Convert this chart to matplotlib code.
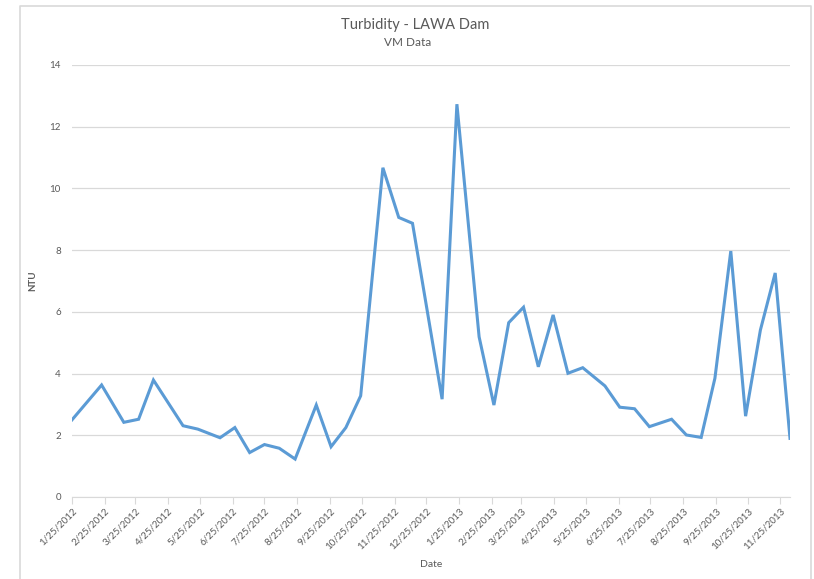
import matplotlib
matplotlib.use("Agg")
import matplotlib.pyplot as plt
import matplotlib.dates as mdates
import pandas as pd
import numpy as np

# sample dates (roughly every two weeks) and turbidity readings in NTU
dates = ['2012-01-25', '2012-02-22', '2012-03-14', '2012-03-28', '2012-04-11',
         '2012-05-09', '2012-05-23', '2012-06-13', '2012-06-27', '2012-07-11',
         '2012-07-25', '2012-08-08', '2012-08-23', '2012-09-12', '2012-09-26',
         '2012-10-10', '2012-10-24', '2012-11-14', '2012-11-29', '2012-12-12',
         '2013-01-09', '2013-01-23', '2013-02-13', '2013-02-27', '2013-03-13',
         '2013-03-27', '2013-04-10', '2013-04-24', '2013-05-08', '2013-05-22',
         '2013-06-12', '2013-06-26', '2013-07-10', '2013-07-24', '2013-08-14',
         '2013-08-28', '2013-09-11', '2013-09-24', '2013-10-09', '2013-10-23',
         '2013-11-06', '2013-11-20', '2013-12-04']
ntu = [2.50, 3.63, 2.42, 2.52, 3.79,
       2.31, 2.20, 1.92, 2.25, 1.44,
       1.70, 1.58, 1.23, 2.98, 1.63,
       2.25, 3.28, 10.67, 9.06, 8.87,
       3.17, 12.73, 5.19, 2.98, 5.65,
       6.15, 4.22, 5.90, 4.01, 4.19,
       3.60, 2.91, 2.86, 2.28, 2.52,
       2.01, 1.93, 3.85, 7.97, 2.62,
       5.41, 7.26, 1.90]
y_ticks = [0, 2, 4, 6, 8, 10, 12, 14]

dates = pd.to_datetime(dates)
txt = '#595959'
grid = '#d9d9d9'
plt.rcParams['font.family'] = ['Lato', 'DejaVu Sans']

fig = plt.figure(figsize=(8.14, 5.79), dpi=100)
ax = fig.add_axes([72/814, 1-497/579, (790-72)/814, (497-65)/579])

ax.plot(dates, ntu, color='#5b9bd5', lw=2.2, solid_joinstyle='miter')

ax.set_ylim(0, 14)
ax.set_yticks(y_ticks)
ax.set_xlim(dates[0], dates[-1])
ax.xaxis.set_major_locator(mdates.MonthLocator(bymonthday=25))
ax.xaxis.set_major_formatter(plt.FuncFormatter(
    lambda v, p: (lambda d: f"{d.month}/{d.day}/{d.year}")(mdates.num2date(v))))

ax.grid(axis='y', color=grid, lw=0.9)
ax.set_axisbelow(True)
for s in ['top', 'right', 'left']:
    ax.spines[s].set_visible(False)
ax.spines['bottom'].set_color(grid)
ax.tick_params(axis='y', length=0, labelsize=7, labelcolor=txt, pad=8)
ax.tick_params(axis='x', length=5, color=grid, labelsize=7, labelcolor=txt, pad=2)
plt.setp(ax.get_xticklabels(), rotation=45, ha='right', rotation_mode='anchor')

ax.set_xlabel('Date', fontsize=7.5, color=txt, labelpad=6)
ax.set_ylabel('NTU', fontsize=7, color=txt, fontweight='bold', labelpad=9)

fig.text(415/814, 1-25/579, 'Turbidity - LAWA Dam', ha='center', va='center', fontsize=10.5, color=txt)
fig.text(408/814, 1-43/579, 'VM Data', ha='center', va='center', fontsize=8.5, color=txt)

# chart area border (bottom edge runs off the image)
fig.add_artist(plt.Line2D([20/814, 20/814, 810.5/814, 810.5/814],
                          [0, 1-5.5/579, 1-5.5/579, 0],
                          transform=fig.transFigure, color=grid, lw=1.2))

fig.savefig('out.png', dpi=100)
